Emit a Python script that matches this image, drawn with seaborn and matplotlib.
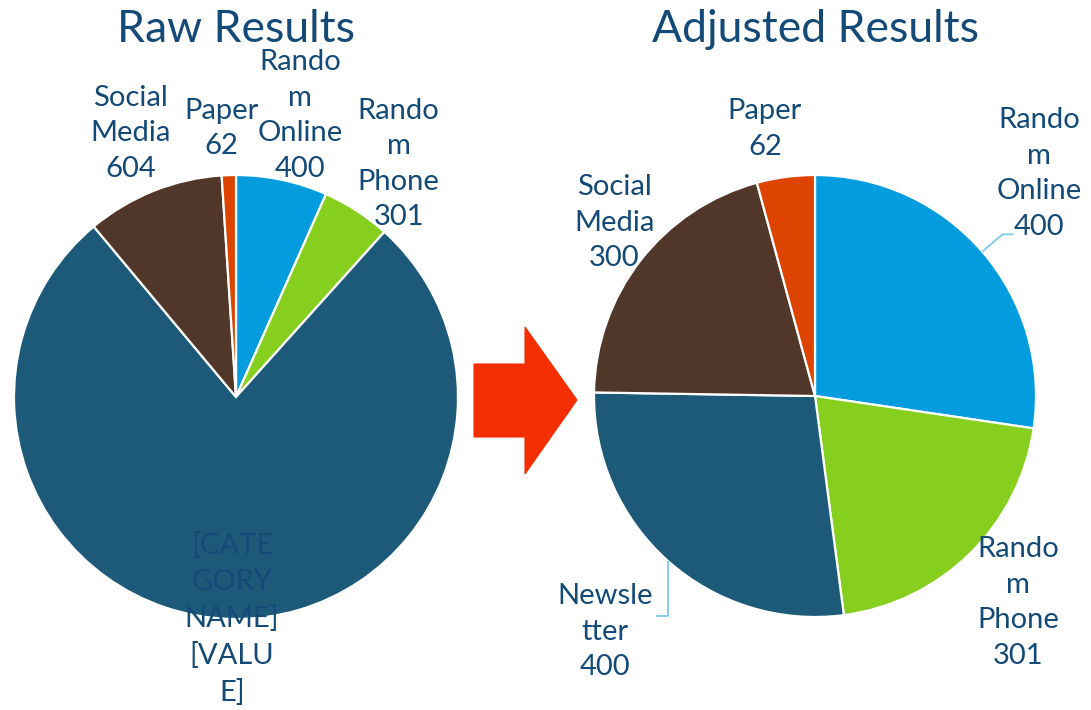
import numpy as np
import matplotlib
matplotlib.use("Agg")
import matplotlib.pyplot as plt
from matplotlib.patches import Polygon
import seaborn as sns

# --- data -------------------------------------------------------------
categories = ["Random Online", "Random Phone", "Newsletter", "Social Media", "Paper"]
raw_values = [400, 301, 4650, 604, 62]
adjusted_values = [400, 301, 400, 300, 62]

# wrapped category names as they appear on the data labels
raw_names = ["Rando\nm\nOnline", "Rando\nm\nPhone", None, "Social\nMedia", "Paper"]
adjusted_names = ["Rando\nm\nOnline", "Rando\nm\nPhone", "Newsle\ntter", "Social\nMedia", "Paper"]
placeholder_label = "[CATE\nGORY\nNAME]\n[VALU\nE]"

titles = ["Raw Results", "Adjusted Results"]

# --- style ------------------------------------------------------------
sns.set_theme(style="white")
plt.rcParams["font.family"] = ["Lato", "DejaVu Sans"]

slice_colors = ["#039ddf", "#86cf1f", "#1d5a7a", "#51362a", "#dc4400"]
text_color = "#144a78"
leader_color = "#7fc8f0"
arrow_color = "#f52e00"

W, H = 1091, 710
HALF = 345
fig = plt.figure(figsize=(W / 100, H / 100), dpi=100)
fig.patch.set_facecolor("white")


def pie_axes(cx, cy):
    """Square axes centred at (cx, cy), measured in pixels from the top-left."""
    return fig.add_axes([(cx - HALF) / W, (H - cy - HALF) / H, 2 * HALF / W, 2 * HALF / H])


def draw_pie(ax, values, label_texts, label_pos, r_px):
    """label_pos: (radial distance, angular nudge in degrees) for each label."""
    wedges, _ = ax.pie(values, colors=slice_colors, startangle=90, counterclock=False,
                       radius=1.0,
                       wedgeprops=dict(edgecolor="white", linewidth=1.6))
    lim = HALF / r_px
    ax.set_xlim(-lim, lim)
    ax.set_ylim(-lim, lim)
    ax.set_aspect("equal")
    ax.axis("off")
    mids = []
    for w, txt, (d, nudge) in zip(wedges, label_texts, label_pos):
        mid = np.deg2rad((w.theta1 + w.theta2) / 2)
        mids.append(mid)
        a = mid + np.deg2rad(nudge)
        ax.text(d * np.cos(a), d * np.sin(a), txt, ha="center", va="center",
                fontsize=21, color=text_color, linespacing=1.45)
    return mids


# left pie: raw counts
ax_l = pie_axes(236, 397)
raw_labels = [f"{n}\n{v}" if n else placeholder_label for n, v in zip(raw_names, raw_values)]
draw_pie(ax_l, raw_values, raw_labels,
         [(1.30, -0.8), (1.28, -2), (1.0, 0), (1.28, 0), (1.21, 1.2)], 222)

# right pie: adjusted counts
ax_r = pie_axes(815, 396)
adj_labels = [f"{n}\n{v}" for n, v in zip(adjusted_names, adjusted_values)]
mids_r = draw_pie(ax_r, adjusted_values, adj_labels,
                  [(1.43, 4), (1.31, 0), (1.43, 0), (1.20, -3), (1.23, 3)], 221)

# leader lines for the two labels pushed away from their slices
m = mids_r[0]
sx, sy = np.cos(m), np.sin(m)
ex, ey = 1.12 * np.cos(m), 1.12 * np.sin(m)
ax_r.plot([sx, ex, ex + 0.05], [sy, ey, ey], color=leader_color, lw=1.3, solid_capstyle="butt")
m = mids_r[2]
sx, sy = np.cos(m), np.sin(m)
ax_r.plot([sx, sx, sx - 0.055], [sy, sy - 0.25, sy - 0.25], color=leader_color, lw=1.3,
          solid_capstyle="butt")

# titles
for ax, t in zip([ax_l, ax_r], titles):
    ax.text(0, 1.60, t, ha="center", va="baseline", fontsize=32, color=text_color)

# block arrow between the two charts
arrow_px = [(474, 364), (525, 364), (525, 327), (577, 400), (525, 474), (525, 437), (474, 437)]
fig.patches.append(Polygon([(x / W, 1 - y / H) for x, y in arrow_px], closed=True,
                           transform=fig.transFigure, facecolor=arrow_color,
                           edgecolor=arrow_color, lw=0.8))

fig.savefig("out.png", dpi=100, facecolor="white")
